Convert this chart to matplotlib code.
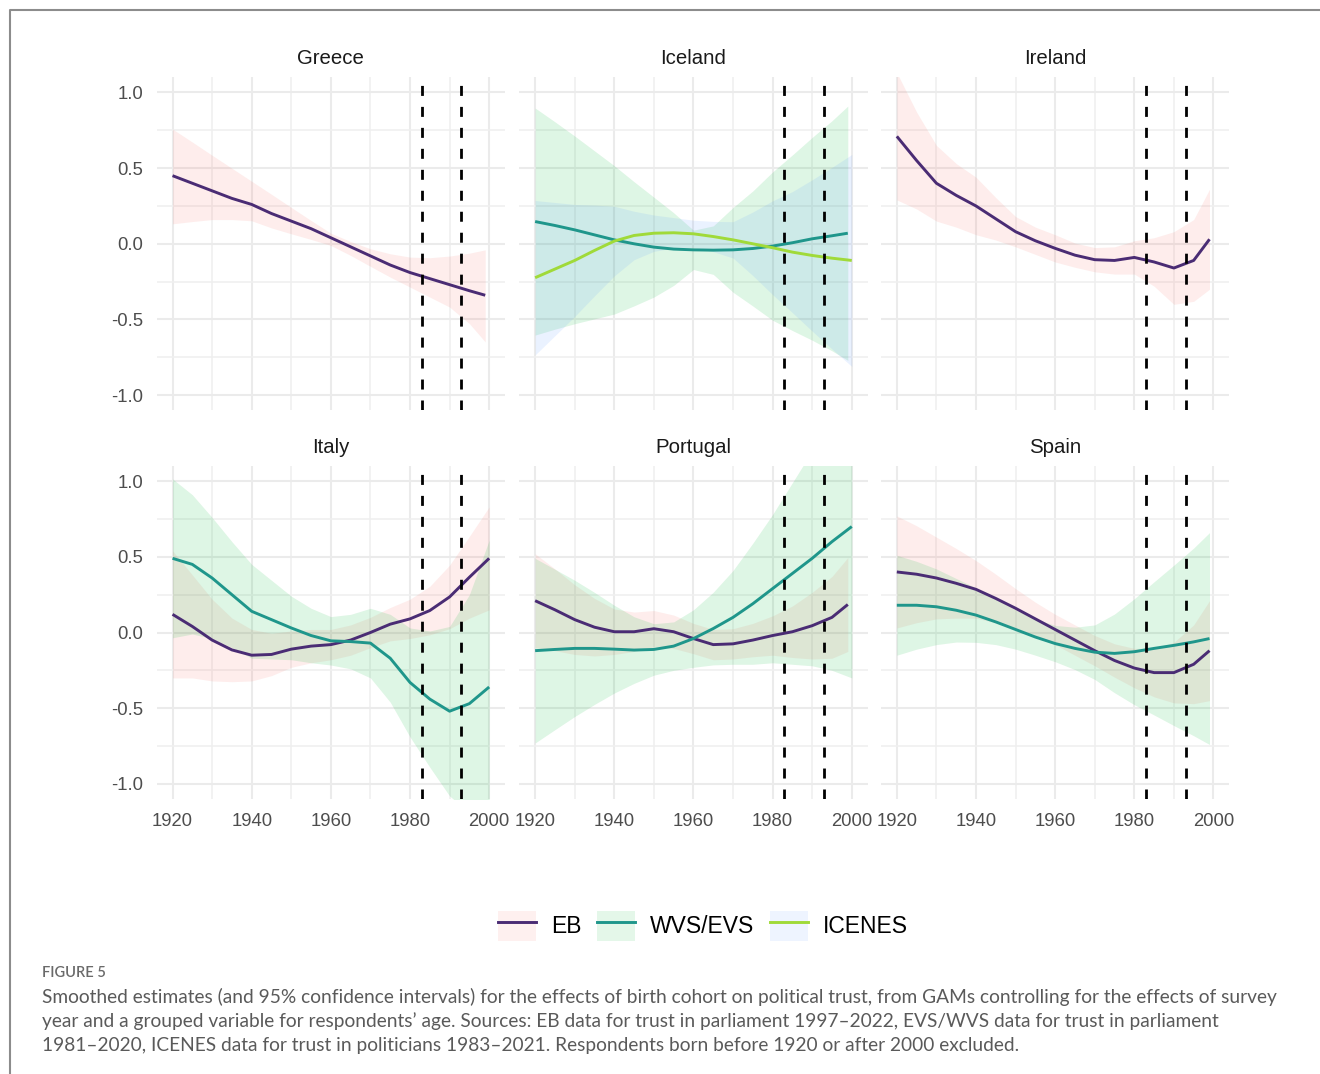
import matplotlib
matplotlib.use("Agg")
import matplotlib.pyplot as plt
from matplotlib.patches import Patch
from matplotlib.lines import Line2D
from matplotlib.legend_handler import HandlerTuple
import numpy as np

# birth cohort years that the smooths were read at
YEARS = [1920, 1925, 1930, 1935, 1940, 1945, 1950, 1955, 1960,
         1965, 1970, 1975, 1980, 1985, 1990, 1995, 2000]
YEARS_99 = YEARS[:-1] + [1999]

COUNTRIES = ["Greece", "Iceland", "Ireland", "Italy", "Portugal", "Spain"]
SOURCES = ["EB", "WVS/EVS", "ICENES"]
CUTOFFS = [1983, 1993]

# Greece, EB (band read as lower / upper edges)
greece_eb = [0.45, 0.40, 0.35, 0.30, 0.26, 0.20, 0.15, 0.10, 0.04,
             -0.02, -0.08, -0.14, -0.19, -0.23, -0.27, -0.31, -0.34]
greece_eb_lo = [0.132, 0.147, 0.16, 0.16, 0.152, 0.105, 0.066, 0.029, -0.011,
                -0.077, -0.149, -0.22, -0.286, -0.352, -0.418, -0.527, -0.648]
greece_eb_hi = [0.758, 0.672, 0.585, 0.499, 0.413, 0.327, 0.24, 0.154, 0.07,
                0.015, -0.033, -0.066, -0.088, -0.092, -0.081, -0.062, -0.04]

# Iceland
iceland_wvs = [0.147, 0.121, 0.092, 0.059, 0.026, 0.0, -0.022, -0.035, -0.04,
               -0.042, -0.04, -0.031, -0.015, 0.007, 0.033, 0.053, 0.07]
iceland_wvs_ci = [0.75, 0.685, 0.62, 0.555, 0.49, 0.41, 0.33, 0.24, 0.13,
                  0.16, 0.28, 0.38, 0.49, 0.58, 0.67, 0.76, 0.84]
iceland_icenes = [-0.224, -0.167, -0.11, -0.044, 0.018, 0.055, 0.07, 0.073, 0.066,
                  0.048, 0.026, 0.0, -0.026, -0.055, -0.077, -0.095, -0.11]
iceland_icenes_ci = [0.51, 0.44, 0.37, 0.30, 0.23, 0.16, 0.12, 0.10, 0.09,
                     0.10, 0.12, 0.21, 0.31, 0.40, 0.50, 0.60, 0.70]

# Ireland
ireland_eb = [0.71, 0.55, 0.40, 0.32, 0.25, 0.165, 0.08, 0.02, -0.03,
              -0.075, -0.105, -0.11, -0.09, -0.12, -0.16, -0.11, 0.03]
ireland_eb_ci = [0.42, 0.32, 0.25, 0.21, 0.19, 0.14, 0.10, 0.09, 0.09,
                 0.08, 0.08, 0.09, 0.11, 0.16, 0.24, 0.27, 0.33]

# Italy
italy_eb = [0.12, 0.04, -0.05, -0.115, -0.15, -0.145, -0.11, -0.09, -0.08,
            -0.05, 0.0, 0.055, 0.09, 0.145, 0.235, 0.365, 0.49]
italy_eb_ci = [0.42, 0.34, 0.27, 0.21, 0.17, 0.14, 0.12, 0.11, 0.10,
               0.10, 0.10, 0.11, 0.13, 0.16, 0.21, 0.27, 0.34]
italy_wvs = [0.49, 0.45, 0.36, 0.25, 0.14, 0.085, 0.03, -0.02, -0.055,
             -0.06, -0.07, -0.17, -0.33, -0.44, -0.52, -0.47, -0.36]
italy_wvs_ci = [0.525, 0.46, 0.40, 0.35, 0.31, 0.26, 0.21, 0.18, 0.16,
                0.18, 0.23, 0.29, 0.36, 0.45, 0.56, 0.72, 0.97]

# Portugal
portugal_eb = [0.21, 0.15, 0.085, 0.035, 0.005, 0.005, 0.025, 0.005, -0.04,
               -0.08, -0.075, -0.05, -0.02, 0.005, 0.045, 0.10, 0.185]
portugal_eb_ci = [0.31, 0.27, 0.23, 0.19, 0.15, 0.13, 0.12, 0.11, 0.10,
                  0.10, 0.10, 0.11, 0.13, 0.17, 0.22, 0.27, 0.31]
portugal_wvs = [-0.12, -0.112, -0.105, -0.105, -0.11, -0.116, -0.112, -0.09, -0.04,
                0.026, 0.10, 0.19, 0.29, 0.39, 0.49, 0.60, 0.70]
portugal_wvs_ci = [0.61, 0.53, 0.45, 0.37, 0.29, 0.22, 0.17, 0.16, 0.19,
                   0.24, 0.31, 0.40, 0.49, 0.60, 0.71, 0.85, 1.0]

# Spain
spain_eb = [0.40, 0.385, 0.36, 0.325, 0.285, 0.225, 0.16, 0.09, 0.02,
            -0.05, -0.12, -0.185, -0.235, -0.265, -0.265, -0.21, -0.12]
spain_eb_ci = [0.37, 0.32, 0.27, 0.23, 0.19, 0.16, 0.13, 0.11, 0.10,
               0.10, 0.10, 0.11, 0.13, 0.16, 0.20, 0.26, 0.33]
spain_wvs = [0.18, 0.18, 0.17, 0.147, 0.115, 0.07, 0.02, -0.03, -0.073,
             -0.105, -0.13, -0.138, -0.127, -0.105, -0.085, -0.062, -0.04]
spain_wvs_ci = [0.33, 0.29, 0.25, 0.21, 0.18, 0.15, 0.13, 0.12, 0.12,
                0.14, 0.18, 0.26, 0.35, 0.44, 0.53, 0.62, 0.70]

CAPTION_HEAD = "FIGURE 5"
CAPTION = [
    "Smoothed estimates (and 95% confidence intervals) for the effects of birth cohort on political trust, from GAMs controlling for the effects of survey",
    "year and a grouped variable for respondents\u2019 age. Sources: EB data for trust in parliament 1997\u20132022, EVS/WVS data for trust in parliament",
    "1981\u20132020, ICENES data for trust in politicians 1983\u20132021. Respondents born before 1920 or after 2000 excluded.",
]

LINE_COL = {"EB": "#4A2C74", "WVS/EVS": "#1F968B", "ICENES": "#A0DA39"}
FILL_COL = {"EB": "#F8766D", "WVS/EVS": "#00BA38", "ICENES": "#619CFF"}
FILL_ALPHA = 0.13


def sym(years, est, ci):
    est = np.array(est)
    ci = np.array(ci)
    return (years, est, est - ci, est + ci)


panels = {
    "Greece": {"EB": (YEARS_99, np.array(greece_eb), np.array(greece_eb_lo), np.array(greece_eb_hi))},
    "Iceland": {"WVS/EVS": sym(YEARS_99, iceland_wvs, iceland_wvs_ci),
                "ICENES": sym(YEARS, iceland_icenes, iceland_icenes_ci)},
    "Ireland": {"EB": sym(YEARS_99, ireland_eb, ireland_eb_ci)},
    "Italy": {"EB": sym(YEARS, italy_eb, italy_eb_ci),
              "WVS/EVS": sym(YEARS, italy_wvs, italy_wvs_ci)},
    "Portugal": {"EB": sym(YEARS_99, portugal_eb, portugal_eb_ci),
                 "WVS/EVS": sym(YEARS, portugal_wvs, portugal_wvs_ci)},
    "Spain": {"EB": sym(YEARS_99, spain_eb, spain_eb_ci),
              "WVS/EVS": sym(YEARS_99, spain_wvs, spain_wvs_ci)},
}

W, H = 1320, 1074
fig = plt.figure(figsize=(W / 100, H / 100), dpi=100)
plt.rcParams["lines.scale_dashes"] = False

lefts = [156.7, 519.3, 881.0]
tops = [77.3, 466.0]
pw, ph = 348.3, 333.0

for i, country in enumerate(COUNTRIES):
    row, col = divmod(i, 3)
    ax = fig.add_axes([lefts[col] / W, 1 - (tops[row] + ph) / H, pw / W, ph / H])
    ax.set_xlim(1916, 2004)
    ax.set_ylim(-1.1, 1.1)
    ax.set_xticks([1920, 1940, 1960, 1980, 2000])
    ax.set_xticks([1930, 1950, 1970, 1990], minor=True)
    ax.set_yticks([-1.0, -0.5, 0.0, 0.5, 1.0])
    ax.set_yticks([-0.75, -0.25, 0.25, 0.75], minor=True)
    ax.grid(which="major", color="#EBEBEB", linewidth=1.5)
    ax.grid(which="minor", color="#EFEFEF", linewidth=1.1)
    ax.set_axisbelow(True)
    for s in ax.spines.values():
        s.set_visible(False)
    ax.tick_params(which="both", length=0, labelsize=13.3, labelcolor="#4D4D4D")
    ax.tick_params(axis="y", pad=9.5)
    ax.tick_params(axis="x", pad=10)
    ax.set_yticklabels(["-1.0", "-0.5", "0.0", "0.5", "1.0"], fontfamily="Liberation Sans")
    ax.set_xticklabels(["1920", "1940", "1960", "1980", "2000"], fontfamily="Liberation Sans")
    if row == 0:
        ax.tick_params(axis="x", labelbottom=False)
    if col > 0:
        ax.tick_params(axis="y", labelleft=False)

    series = panels[country]
    for src in SOURCES:
        if src in series:
            yrs, est, lo, hi = series[src]
            ax.fill_between(yrs, lo, hi, color=FILL_COL[src], alpha=FILL_ALPHA, lw=0)
    for src in SOURCES:
        if src in series:
            yrs, est, lo, hi = series[src]
            ax.plot(yrs, est, color=LINE_COL[src], lw=2.1, solid_capstyle="butt",
                    solid_joinstyle="round")
    for c in CUTOFFS:
        ax.axvline(c, color="black", lw=2.0, dashes=(7.2, 7.9))

    ax.text(0.5, 1.057, country, transform=ax.transAxes, ha="center", va="center",
            fontsize=14.7, color="#1A1A1A", fontfamily="Liberation Sans")

# legend
handles = [(Patch(facecolor=FILL_COL[s], alpha=FILL_ALPHA * 0.8, lw=0),
            Line2D([], [], color=LINE_COL[s], lw=2.1)) for s in SOURCES]
fig.legend(handles, SOURCES, loc="center", bbox_to_anchor=(703 / W, 1 - 926 / H),
           ncol=3, frameon=False, prop={"family": "Liberation Sans", "size": 16.5},
           handlelength=1.65, handleheight=1.65, handletextpad=0.65, columnspacing=0.7,
           handler_map={tuple: HandlerTuple(ndivide=1)})

# caption
fig.text(42 / W, 1 - 973 / H, CAPTION_HEAD, ha="left", va="center", fontsize=10.5,
         color="#6A6A6A", fontfamily="Lato", fontweight="semibold")
for k, line in enumerate(CAPTION):
    fig.text(42 / W, 1 - (997 + 24 * k) / H, line, ha="left", va="center", fontsize=13.75,
             color="#5A5A5A", fontfamily="Lato")

# frame around the figure (top and left edge visible)
fig.add_artist(Line2D([10 / W, 10 / W, 1.0], [0.0, 1 - 10 / H, 1 - 10 / H],
                      transform=fig.transFigure, color="#8C8C8C", lw=1.5))

fig.savefig("out.png", dpi=100)
